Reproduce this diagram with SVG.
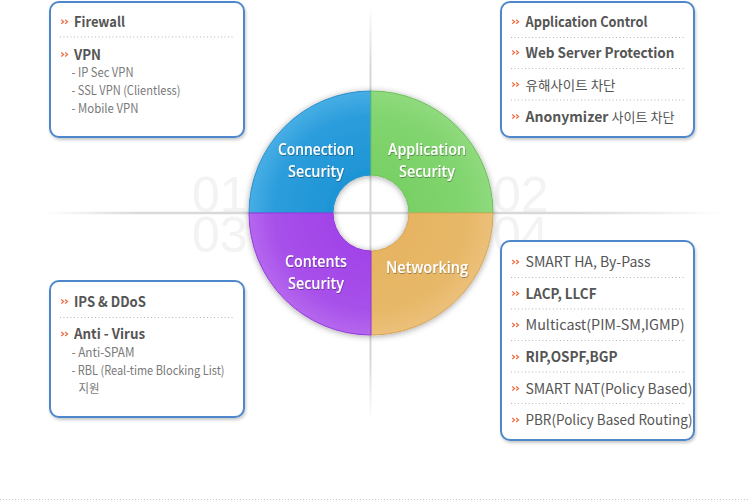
<svg xmlns="http://www.w3.org/2000/svg" width="750" height="501" viewBox="0 0 750 501">
<defs>
<style>
.box{fill:#fff;stroke:#4f87cb;stroke-width:2}
.dot{stroke:#b5b5b5;stroke-width:1;stroke-dasharray:1 2.5}
.h{font-family:"Noto Sans CJK KR","Noto Sans",sans-serif;font-size:14px;font-weight:bold;fill:#555}
.n{font-family:"Noto Sans CJK KR","Noto Sans",sans-serif;font-size:14px;font-weight:normal;fill:#555}
.k{font-family:"Noto Sans CJK KR",sans-serif;font-size:13px;font-weight:normal;fill:#555}
.s{font-family:"Noto Sans CJK KR","Noto Sans",sans-serif;font-size:12.5px;fill:#7a7a7a}
.c{font-family:"Open Sans","Noto Sans",sans-serif;font-size:17px;font-weight:600;fill:#fff;text-anchor:middle}
.num{font-family:"Liberation Sans",Arial,sans-serif;font-size:50px;fill:#f3f3f3}
</style>
<symbol id="bul" viewBox="0 0 10 6" overflow="visible">
<polyline points="0.5,0.6 3.4,3 0.5,5.4" fill="none" stroke="#ef6a3a" stroke-width="1.4"/>
<polyline points="5.2,0.6 8.1,3 5.2,5.4" fill="none" stroke="#ef6a3a" stroke-width="1.4"/>
</symbol>
<filter id="bsh" x="-10%" y="-10%" width="125%" height="125%">
<feDropShadow dx="1" dy="2" stdDeviation="1.8" flood-color="#000" flood-opacity="0.22"/>
</filter>
<filter id="csh" x="-20%" y="-20%" width="140%" height="140%">
<feDropShadow dx="0" dy="1" stdDeviation="3" flood-color="#000" flood-opacity="0.35"/>
</filter>
<filter id="tsh" x="-10%" y="-20%" width="120%" height="150%">
<feDropShadow dx="0.5" dy="1" stdDeviation="0.6" flood-color="#000" flood-opacity="0.35"/>
</filter>
<linearGradient id="hl" gradientUnits="userSpaceOnUse" x1="45" y1="0" x2="725" y2="0">
<stop offset="0" stop-color="#d9d9d9" stop-opacity="0"/>
<stop offset="0.14" stop-color="#d9d9d9" stop-opacity="1"/>
<stop offset="0.78" stop-color="#d9d9d9" stop-opacity="1"/>
<stop offset="1" stop-color="#d9d9d9" stop-opacity="0"/>
</linearGradient>
<linearGradient id="vl" gradientUnits="userSpaceOnUse" x1="0" y1="5" x2="0" y2="420">
<stop offset="0" stop-color="#d6d6d6" stop-opacity="0"/>
<stop offset="0.15" stop-color="#d6d6d6" stop-opacity="1"/>
<stop offset="0.85" stop-color="#d6d6d6" stop-opacity="1"/>
<stop offset="1" stop-color="#d6d6d6" stop-opacity="0"/>
</linearGradient>
<radialGradient id="gb" gradientUnits="userSpaceOnUse" cx="371" cy="213" r="122">
<stop offset="0.35" stop-color="#1f95d6"/><stop offset="0.8" stop-color="#2c9ddc"/><stop offset="1" stop-color="#47aee4"/>
</radialGradient>
<radialGradient id="gg" gradientUnits="userSpaceOnUse" cx="371" cy="213" r="122">
<stop offset="0.35" stop-color="#79d166"/><stop offset="0.8" stop-color="#82d56f"/><stop offset="1" stop-color="#8fda7e"/>
</radialGradient>
<radialGradient id="go" gradientUnits="userSpaceOnUse" cx="371" cy="213" r="122">
<stop offset="0.35" stop-color="#e6b463"/><stop offset="0.8" stop-color="#e7b868"/><stop offset="1" stop-color="#ebc07a"/>
</radialGradient>
<radialGradient id="gp" gradientUnits="userSpaceOnUse" cx="371" cy="213" r="122">
<stop offset="0.35" stop-color="#a244e8"/><stop offset="0.8" stop-color="#a851ea"/><stop offset="1" stop-color="#b567ee"/>
</radialGradient>
</defs>
<rect width="750" height="501" fill="#fff"/>

<g id="background-numbers">
<text class="num" x="192" y="212">01</text>
<text class="num" x="493" y="212">02</text>
<text class="num" x="192" y="252">03</text>
<text class="num" x="493" y="252">04</text>
</g>

<g id="connectors">
<line x1="45" y1="213" x2="725" y2="213" stroke="url(#hl)" stroke-width="2.5"/>
<line x1="370.5" y1="5" x2="370.5" y2="420" stroke="url(#vl)" stroke-width="2"/>
<line x1="0" y1="499.5" x2="750" y2="499.5" stroke="#c8c8c8" stroke-width="1" stroke-dasharray="1 2"/>
</g>

<g id="ring" filter="url(#csh)">
<g id="node-connection-security">
<path d="M249,213 A122,122 0 0 1 371,91 L371,175 A38,38 0 0 0 333,213 Z" fill="url(#gb)" stroke="#2a8fcc" stroke-width="1"/>
</g>
<g id="node-application-security">
<path d="M371,91 A122,122 0 0 1 493,213 L409,213 A38,38 0 0 0 371,175 Z" fill="url(#gg)" stroke="#6cc258" stroke-width="1"/>
</g>
<g id="node-networking">
<path d="M493,213 A122,122 0 0 1 371,335 L371,251 A38,38 0 0 0 409,213 Z" fill="url(#go)" stroke="#d9a556" stroke-width="1"/>
</g>
<g id="node-contents-security">
<path d="M371,335 A122,122 0 0 1 249,213 L333,213 A38,38 0 0 0 371,251 Z" fill="url(#gp)" stroke="#9439dc" stroke-width="1"/>
</g>
</g>
<g id="ring-labels" filter="url(#tsh)">
<text class="c" x="316" y="155" textLength="76" lengthAdjust="spacingAndGlyphs">Connection</text>
<text class="c" x="316" y="177" textLength="56" lengthAdjust="spacingAndGlyphs">Security</text>
<text class="c" x="427" y="155" textLength="78" lengthAdjust="spacingAndGlyphs">Application</text>
<text class="c" x="427" y="177" textLength="56" lengthAdjust="spacingAndGlyphs">Security</text>
<text class="c" x="316" y="266.5" textLength="62" lengthAdjust="spacingAndGlyphs">Contents</text>
<text class="c" x="316" y="289" textLength="56" lengthAdjust="spacingAndGlyphs">Security</text>
<text class="c" x="427" y="272.5" textLength="82" lengthAdjust="spacingAndGlyphs">Networking</text>
</g>

<g id="box-connection">
<rect class="box" x="50" y="2" width="194" height="135" rx="9" filter="url(#bsh)"/>
<use href="#bul" x="60.5" y="19.2" width="9" height="5"/>
<text class="h" x="74" y="26.5" textLength="51" lengthAdjust="spacingAndGlyphs">Firewall</text>
<line class="dot" x1="60" y1="37" x2="234" y2="37"/>
<use href="#bul" x="60.5" y="52" width="9" height="5"/>
<text class="h" x="74" y="59.5" textLength="27" lengthAdjust="spacingAndGlyphs">VPN</text>
<text class="s" x="71.5" y="77" textLength="62" lengthAdjust="spacingAndGlyphs">- IP Sec VPN</text>
<text class="s" x="71.5" y="95" textLength="109" lengthAdjust="spacingAndGlyphs">- SSL VPN (Clientless)</text>
<text class="s" x="71.5" y="113" textLength="67" lengthAdjust="spacingAndGlyphs">- Mobile VPN</text>
</g>

<g id="box-application">
<rect class="box" x="501" y="2" width="193" height="135" rx="9" filter="url(#bsh)"/>
<use href="#bul" x="511.5" y="19.2" width="9" height="5"/>
<text class="h" x="525.5" y="26.5" textLength="122" lengthAdjust="spacingAndGlyphs">Application Control</text>
<line class="dot" x1="511" y1="37.5" x2="685" y2="37.5"/>
<use href="#bul" x="511.5" y="50" width="9" height="5"/>
<text class="h" x="525.5" y="57.5" textLength="149" lengthAdjust="spacingAndGlyphs">Web Server Protection</text>
<line class="dot" x1="511" y1="68.5" x2="685" y2="68.5"/>
<use href="#bul" x="511.5" y="82" width="9" height="5"/>
<text class="k" x="525.5" y="89.5" textLength="90" lengthAdjust="spacingAndGlyphs">유해사이트 차단</text>
<line class="dot" x1="511" y1="100" x2="685" y2="100"/>
<use href="#bul" x="511.5" y="114" width="9" height="5"/>
<text class="h" x="525.5" y="121.5" textLength="149" lengthAdjust="spacingAndGlyphs">Anonymizer <tspan class="k">사이트 차단</tspan></text>
</g>

<g id="box-contents">
<rect class="box" x="50" y="281" width="194" height="136" rx="9" filter="url(#bsh)"/>
<use href="#bul" x="60.5" y="299" width="9" height="5"/>
<text class="h" x="74" y="306.5" textLength="72" lengthAdjust="spacingAndGlyphs">IPS &amp; DDoS</text>
<line class="dot" x1="60" y1="317.5" x2="234" y2="317.5"/>
<use href="#bul" x="60.5" y="331.5" width="9" height="5"/>
<text class="h" x="74" y="339" textLength="71" lengthAdjust="spacingAndGlyphs">Anti - Virus</text>
<text class="s" x="71.5" y="357" textLength="63" lengthAdjust="spacingAndGlyphs">- Anti-SPAM</text>
<text class="s" x="71.5" y="375" textLength="153" lengthAdjust="spacingAndGlyphs">- RBL (Real-time Blocking List)</text>
<text class="s" x="78.5" y="393" textLength="21" lengthAdjust="spacingAndGlyphs">지원</text>
</g>

<g id="box-networking">
<rect class="box" x="501" y="241" width="193" height="199" rx="9" filter="url(#bsh)"/>
<use href="#bul" x="511.5" y="259.5" width="9" height="5"/>
<text class="n" x="525.5" y="267" textLength="125" lengthAdjust="spacingAndGlyphs">SMART HA, By-Pass</text>
<line class="dot" x1="511" y1="277.5" x2="685" y2="277.5"/>
<use href="#bul" x="511.5" y="291" width="9" height="5"/>
<text class="h" x="525.5" y="298.5" textLength="71" lengthAdjust="spacingAndGlyphs">LACP, LLCF</text>
<line class="dot" x1="511" y1="309" x2="685" y2="309"/>
<use href="#bul" x="511.5" y="322.5" width="9" height="5"/>
<text class="n" x="525.5" y="330" textLength="159" lengthAdjust="spacingAndGlyphs">Multicast(PIM-SM,IGMP)</text>
<line class="dot" x1="511" y1="340.5" x2="685" y2="340.5"/>
<use href="#bul" x="511.5" y="354.5" width="9" height="5"/>
<text class="h" x="525.5" y="362" textLength="92" lengthAdjust="spacingAndGlyphs">RIP,OSPF,BGP</text>
<line class="dot" x1="511" y1="372" x2="685" y2="372"/>
<use href="#bul" x="511.5" y="386" width="9" height="5"/>
<text class="n" x="525.5" y="393.5" textLength="167" lengthAdjust="spacingAndGlyphs">SMART NAT(Policy Based)</text>
<line class="dot" x1="511" y1="403.5" x2="685" y2="403.5"/>
<use href="#bul" x="511.5" y="417.5" width="9" height="5"/>
<text class="n" x="525.5" y="425" textLength="167" lengthAdjust="spacingAndGlyphs">PBR(Policy Based Routing)</text>
</g>
</svg>
